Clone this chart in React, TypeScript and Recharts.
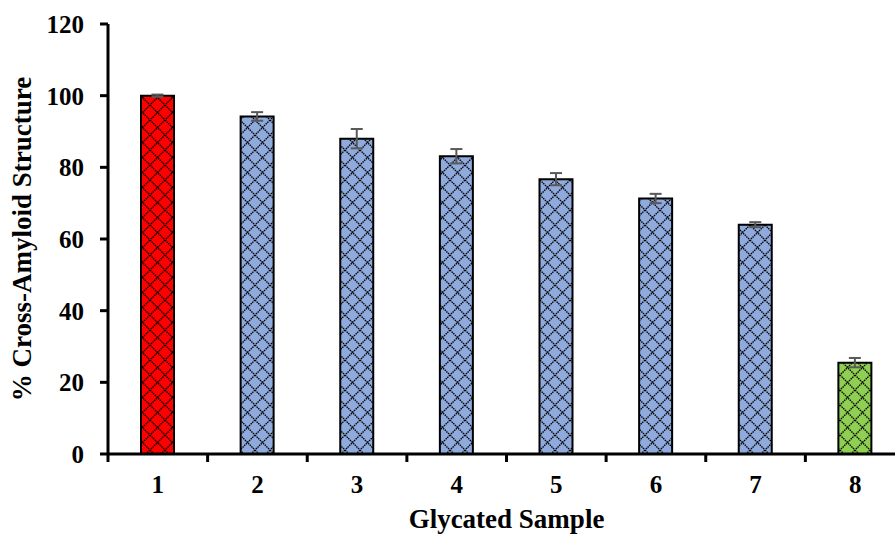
import React from "react";
import { Bar, BarChart, Cell, ErrorBar, XAxis, YAxis } from "recharts";

const samples = ["1", "2", "3", "4", "5", "6", "7", "8"];
const crossAmyloid = [100, 94.2, 88.0, 83.1, 76.7, 71.3, 64.0, 25.5];
const stdErr = [0.3, 1.2, 2.7, 2.0, 1.7, 1.3, 0.7, 1.3];
const barGroup = ["red", "blue", "blue", "blue", "blue", "blue", "blue", "green"];
const yTicks = [0, 20, 40, 60, 80, 100, 120];

const FONT = '"Liberation Serif", "Times New Roman", serif';
const TICK_FS = 25;
const TITLE_FS = 27;
const CHART_W = 910;
const CHART_H = 535;
const MARGIN = { top: 24, right: 5, bottom: 0, left: 0 };
const Y_AXIS_W = 108;
const X_AXIS_H = 81;
const BAND = (CHART_W - MARGIN.left - MARGIN.right - Y_AXIS_W) / samples.length;

const fills: Record<string, string> = {
  red: "#ff0000",
  blue: "#8faadc",
  green: "#8fd053",
};

const data = samples.map((s, i) => ({
  sample: s,
  value: crossAmyloid[i],
  err: stdErr[i],
  group: barGroup[i],
}));

function XTick(props: any) {
  const { x, y, payload } = props;
  return (
    <g>
      <line x1={x - BAND / 2} x2={x - BAND / 2} y1={y} y2={y + 8} stroke="#000" strokeWidth={3} />
      <text
        x={x}
        y={y + 21}
        dy="0.71em"
        textAnchor="middle"
        fill="#000"
        fontSize={TICK_FS}
        fontWeight={700}
        fontFamily={FONT}
      >
        {payload.value}
      </text>
    </g>
  );
}

function YTitle(props: any) {
  const vb = props.viewBox || {};
  const cy = vb.y + vb.height / 2;
  const x = 31;
  return (
    <text
      x={x}
      y={cy}
      transform={`rotate(-90, ${x}, ${cy})`}
      textAnchor="middle"
      fill="#000"
      fontSize={TITLE_FS}
      fontWeight={700}
      fontFamily={FONT}
    >
      % Cross-Amyloid Structure
    </text>
  );
}

export default function App() {
  return (
    <div
      style={{
        position: "absolute",
        left: 0,
        top: 0,
        width: 895,
        height: 535,
        overflow: "hidden",
        background: "#fff",
      }}
    >
      <BarChart width={CHART_W} height={CHART_H} data={data} margin={MARGIN} barSize={33}>
        <defs>
          {Object.keys(fills).map((k) => (
            <pattern key={k} id={`hatch-${k}`} patternUnits="userSpaceOnUse" width={15} height={15}>
              <rect width={15} height={15} fill={fills[k]} />
              <path d="M0,0 L15,15 M15,0 L0,15" stroke="#000" strokeWidth={1.4} strokeDasharray="1.5 0.8" />
            </pattern>
          ))}
        </defs>
        <XAxis
          dataKey="sample"
          height={X_AXIS_H}
          axisLine={{ stroke: "#000", strokeWidth: 3 }}
          tickLine={false}
          tickSize={0}
          tickMargin={0}
          tick={<XTick />}
          interval={0}
          label={{
            value: "Glycated Sample",
            position: "insideBottom",
            offset: 7,
            fill: "#000",
            fontSize: TITLE_FS,
            fontWeight: 700,
            fontFamily: FONT,
          }}
        />
        <YAxis
          width={Y_AXIS_W}
          domain={[0, 120]}
          ticks={yTicks}
          interval={0}
          axisLine={{ stroke: "#000", strokeWidth: 3 }}
          tickLine={{ stroke: "#000", strokeWidth: 3 }}
          tickSize={8}
          tickMargin={16}
          tick={{ fill: "#000", fontSize: TICK_FS, fontWeight: 700, fontFamily: FONT }}
          label={<YTitle />}
        />
        <Bar dataKey="value" stroke="#000" strokeWidth={2} isAnimationActive={false}>
          {data.map((d) => (
            <Cell key={d.sample} fill={`url(#hatch-${d.group})`} />
          ))}
          <ErrorBar dataKey="err" width={6} stroke="#595959" strokeWidth={2} direction="y" />
        </Bar>
      </BarChart>
    </div>
  );
}
